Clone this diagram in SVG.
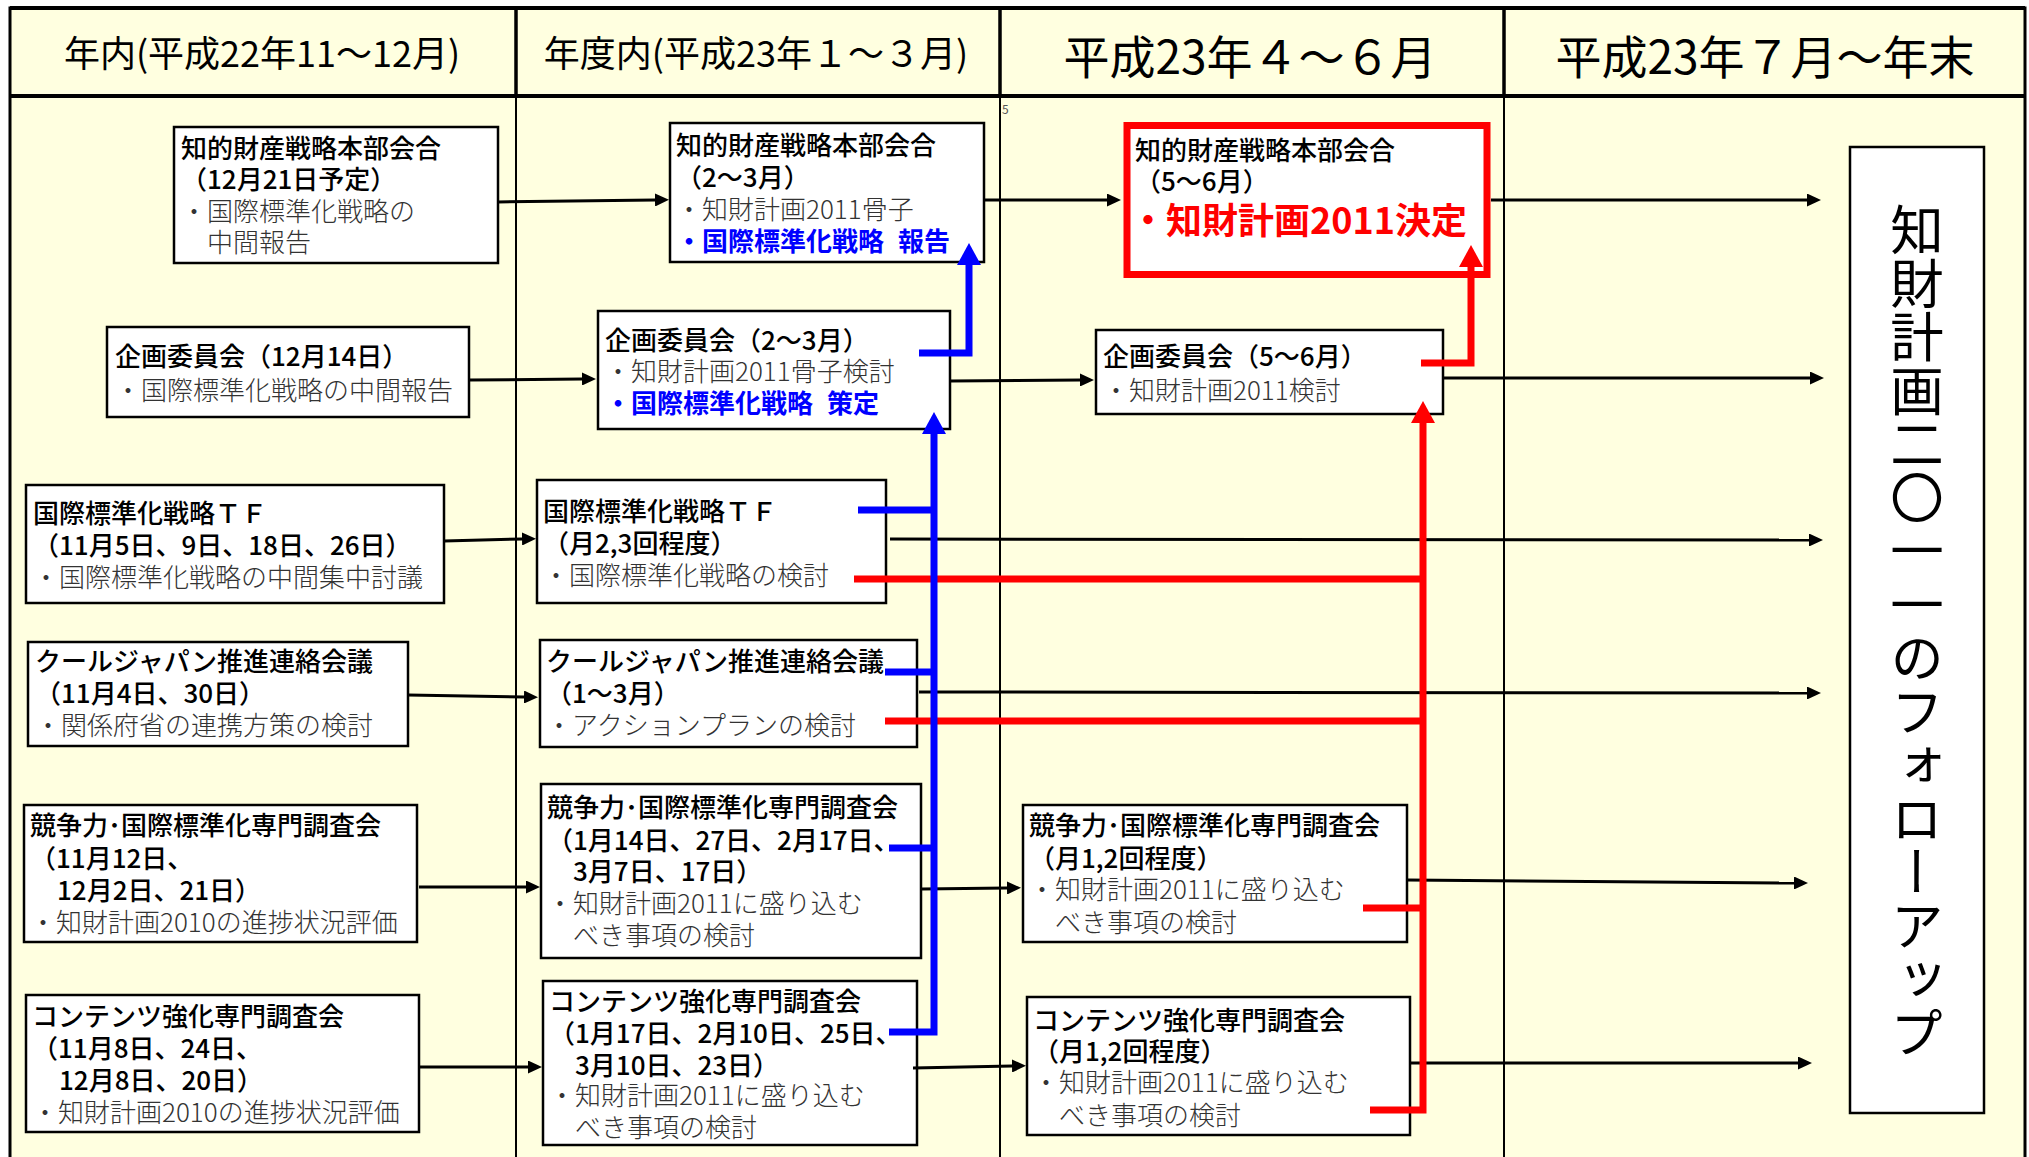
<svg xmlns="http://www.w3.org/2000/svg" width="2029" height="1157" viewBox="0 0 2029 1157">
<style>
text { font-family: "Noto Sans CJK JP", "Noto Sans", sans-serif; }
.hd { font-size: 36px; fill: #000; text-anchor: middle; }
.hd2 { font-size: 46px; fill: #000; text-anchor: middle; }
.t { font-size: 26px; fill: #000; font-weight: 500; }
.b { font-size: 26px; fill: #333; font-weight: 300; }
.blu { font-size: 26px; fill: #0000FF; font-weight: bold; }
.red { font-size: 36px; fill: #FF0000; font-weight: bold; }
.box { fill: #FFFFFF; stroke: #000; stroke-width: 2.5; }
.ar { fill: none; stroke: #000; stroke-width: 3; marker-end: url(#ah); }
.bl { fill: none; stroke: #0000FF; stroke-width: 7; }
.rd { fill: none; stroke: #FF0000; stroke-width: 7; }
</style>
<defs>
<marker id="ah" viewBox="0 0 14 13" refX="0" refY="6.5" markerWidth="14" markerHeight="13" markerUnits="userSpaceOnUse" orient="auto"><path d="M0,0 L14,6.5 L0,13 z" fill="#000"/></marker>
<marker id="ahB" viewBox="0 0 22 24" refX="0" refY="12" markerWidth="22" markerHeight="24" markerUnits="userSpaceOnUse" orient="auto"><path d="M0,0 L22,12 L0,24 z" fill="#0000FF"/></marker>
<marker id="ahR" viewBox="0 0 22 24" refX="0" refY="12" markerWidth="22" markerHeight="24" markerUnits="userSpaceOnUse" orient="auto"><path d="M0,0 L22,12 L0,24 z" fill="#FF0000"/></marker>
</defs>
<rect x="0" y="0" width="2029" height="1157" fill="#FFFFFF"/>
<g id="frame">
<rect x="10" y="8" width="2015" height="1160" fill="#FFFFE0" stroke="#000" stroke-width="3"/>
<line x1="10" y1="8" x2="2025" y2="8" stroke="#000" stroke-width="4"/>
<line x1="10" y1="96" x2="2025" y2="96" stroke="#000" stroke-width="4"/>
<line x1="516" y1="8" x2="516" y2="96" stroke="#000" stroke-width="3.5"/>
<line x1="1000" y1="8" x2="1000" y2="96" stroke="#000" stroke-width="3.5"/>
<line x1="1504" y1="8" x2="1504" y2="96" stroke="#000" stroke-width="3.5"/>
<line x1="516" y1="96" x2="516" y2="1157" stroke="#000" stroke-width="2"/>
<line x1="1000" y1="96" x2="1000" y2="1157" stroke="#000" stroke-width="2"/>
<line x1="1504" y1="96" x2="1504" y2="1157" stroke="#000" stroke-width="2"/>
<text class="hd" x="262" y="67">年内(平成22年11～12月)</text>
<text class="hd" x="756" y="67">年度内(平成23年１～３月)</text>
<text class="hd2" x="1250" y="74">平成23年４～６月</text>
<text class="hd2" x="1765" y="74">平成23年７月～年末</text>
<text x="1002" y="114" font-size="12" fill="#555">5</text>
</g>

<g id="A1">
<rect class="box" x="174" y="127" width="324" height="136"/>
<text class="t" x="181" y="158">知的財産戦略本部会合</text>
<text class="t" x="181" y="189">（12月21日予定）</text>
<text class="b" x="181" y="221">・国際標準化戦略の</text>
<text class="b" x="207" y="252">中間報告</text>
</g>
<g id="A2">
<rect class="box" x="107" y="327" width="362" height="90"/>
<text class="t" x="115" y="366">企画委員会（12月14日）</text>
<text class="b" x="115" y="400">・国際標準化戦略の中間報告</text>
</g>
<g id="A3">
<rect class="box" x="26" y="485" width="418" height="118"/>
<text class="t" x="33" y="523">国際標準化戦略ＴＦ</text>
<text class="t" x="33" y="555">（11月5日、9日、18日、26日）</text>
<text class="b" x="33" y="587">・国際標準化戦略の中間集中討議</text>
</g>
<g id="A4">
<rect class="box" x="28" y="642" width="380" height="104"/>
<text class="t" x="35" y="671">クールジャパン推進連絡会議</text>
<text class="t" x="35" y="703">（11月4日、30日）</text>
<text class="b" x="35" y="735">・関係府省の連携方策の検討</text>
</g>
<g id="A5">
<rect class="box" x="24" y="805" width="393" height="137"/>
<text class="t" x="30" y="835">競争力･国際標準化専門調査会</text>
<text class="t" x="30" y="868">（11月12日、</text>
<text class="t" x="57" y="900">12月2日、21日）</text>
<text class="b" x="30" y="932">・知財計画2010の進捗状況評価</text>
</g>
<g id="A6">
<rect class="box" x="26" y="995" width="393" height="137"/>
<text class="t" x="32" y="1026">コンテンツ強化専門調査会</text>
<text class="t" x="32" y="1058">（11月8日、24日、</text>
<text class="t" x="59" y="1090">12月8日、20日）</text>
<text class="b" x="32" y="1122">・知財計画2010の進捗状況評価</text>
</g>

<g id="B1">
<rect class="box" x="670" y="123" width="314" height="139"/>
<text class="t" x="676" y="155">知的財産戦略本部会合</text>
<text class="t" x="676" y="187">（2～3月）</text>
<text class="b" x="676" y="219">・知財計画2011骨子</text>
<text class="blu" x="676" y="251">・国際標準化戦略<tspan dx="14">報告</tspan></text>
</g>
<g id="B2">
<rect class="box" x="598" y="311" width="352" height="118"/>
<text class="t" x="605" y="350">企画委員会（2～3月）</text>
<text class="b" x="605" y="381">・知財計画2011骨子検討</text>
<text class="blu" x="605" y="413">・国際標準化戦略<tspan dx="14">策定</tspan></text>
</g>
<g id="B3">
<rect class="box" x="537" y="480" width="349" height="123"/>
<text class="t" x="543" y="521">国際標準化戦略ＴＦ</text>
<text class="t" x="543" y="553">（月2,3回程度）</text>
<text class="b" x="543" y="585">・国際標準化戦略の検討</text>
</g>
<g id="B4">
<rect class="box" x="540" y="640" width="377" height="107"/>
<text class="t" x="546" y="671">クールジャパン推進連絡会議</text>
<text class="t" x="546" y="703">（1～3月）</text>
<text class="b" x="546" y="735">・アクションプランの検討</text>
</g>
<g id="B5">
<rect class="box" x="541" y="784" width="380" height="174"/>
<text class="t" x="547" y="817">競争力･国際標準化専門調査会</text>
<text class="t" x="547" y="850">（1月14日、27日、2月17日、</text>
<text class="t" x="573" y="881">3月7日、17日）</text>
<text class="b" x="547" y="913">・知財計画2011に盛り込む</text>
<text class="b" x="573" y="945">べき事項の検討</text>
</g>
<g id="B6">
<rect class="box" x="543" y="981" width="374" height="164"/>
<text class="t" x="549" y="1011">コンテンツ強化専門調査会</text>
<text class="t" x="549" y="1043">（1月17日、2月10日、25日、</text>
<text class="t" x="575" y="1075">3月10日、23日）</text>
<text class="b" x="549" y="1105">・知財計画2011に盛り込む</text>
<text class="b" x="575" y="1137">べき事項の検討</text>
</g>

<g id="C1">
<rect x="1127" y="125.5" width="360" height="149" fill="#FFFFFF" stroke="#FF0000" stroke-width="7"/>
<text class="t" x="1135" y="160">知的財産戦略本部会合</text>
<text class="t" x="1135" y="191">（5～6月）</text>
<text class="red" x="1130" y="234">・知財計画2011決定</text>
</g>
<g id="C2">
<rect class="box" x="1096" y="330" width="347" height="84"/>
<text class="t" x="1103" y="366">企画委員会（5～6月）</text>
<text class="b" x="1103" y="400">・知財計画2011検討</text>
</g>
<g id="C3">
<rect class="box" x="1023" y="805" width="384" height="137"/>
<text class="t" x="1029" y="835">競争力･国際標準化専門調査会</text>
<text class="t" x="1029" y="868">（月1,2回程度）</text>
<text class="b" x="1029" y="899">・知財計画2011に盛り込む</text>
<text class="b" x="1055" y="932">べき事項の検討</text>
</g>
<g id="C4">
<rect class="box" x="1027" y="997" width="383" height="138"/>
<text class="t" x="1033" y="1030">コンテンツ強化専門調査会</text>
<text class="t" x="1033" y="1061">（月1,2回程度）</text>
<text class="b" x="1033" y="1092">・知財計画2011に盛り込む</text>
<text class="b" x="1059" y="1125">べき事項の検討</text>
</g>

<g id="D1">
<rect class="box" x="1850" y="147" width="134" height="966"/>
<text x="1917" y="203" font-size="53.5" fill="#000" style="writing-mode: vertical-rl;">知財計画二〇一一のフォローアップ</text>
</g>

<g id="connectors">
<path class="ar" d="M498,202 L655,200"/>
<path class="ar" d="M984,200 L1107,200"/>
<path class="ar" d="M1491,200 L1807,200"/>
<path class="ar" d="M469,380 L582,379"/>
<path class="ar" d="M950,381 L1080,380"/>
<path class="ar" d="M1443,378 L1810,378"/>
<path class="ar" d="M444,541 L522,539"/>
<path class="ar" d="M890,539 L1809,540"/>
<path class="ar" d="M408,695 L524,697"/>
<path class="ar" d="M919,692 L1807,693"/>
<path class="ar" d="M419,887 L526,887"/>
<path class="ar" d="M922,889 L1007,888"/>
<path class="ar" d="M1407,880 L1794,883"/>
<path class="ar" d="M419,1067 L528,1067"/>
<path class="ar" d="M913,1068 L1012,1066"/>
<path class="ar" d="M1410,1063 L1798,1063"/>
<path class="rd" d="M854,579 H1423"/>
<path class="rd" d="M885,721 H1423"/>
<path class="rd" d="M1363,908 H1423"/>
<path class="rd" d="M1370,1110 H1423 V423" marker-end="url(#ahR)"/>
<path class="rd" d="M1421,363 H1471 V267" marker-end="url(#ahR)"/>
<path class="bl" d="M858,510 H934"/>
<path class="bl" d="M885,672 H934"/>
<path class="bl" d="M889,848 H934"/>
<path class="bl" d="M889,1032 H934 V434" marker-end="url(#ahB)"/>
<path class="bl" d="M919,353 H969 V265" marker-end="url(#ahB)"/>
</g>
</svg>
